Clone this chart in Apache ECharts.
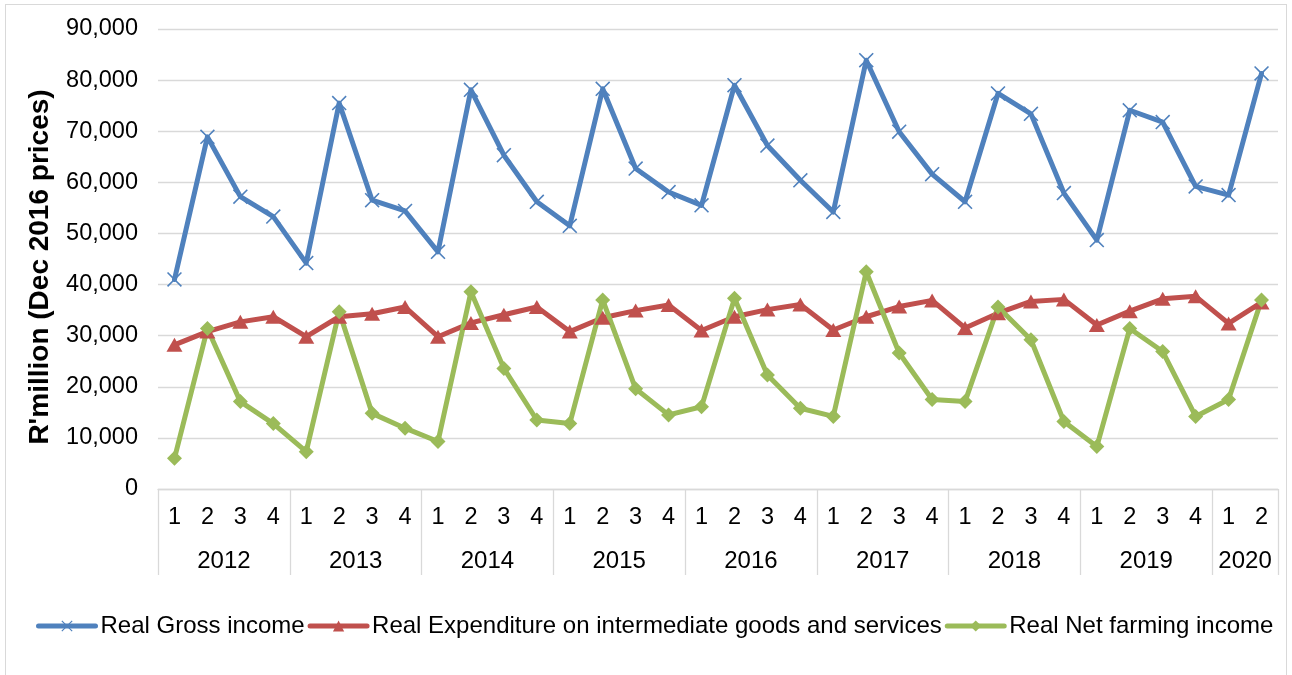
<!DOCTYPE html>
<html>
<head>
<meta charset="utf-8">
<script src="https://cdn.jsdelivr.net/npm/echarts@6/dist/echarts.min.js"></script>
<style>
  html, body { margin: 0; padding: 0; background: #fff; }
  #wrap { position: relative; width: 1292px; height: 675px; overflow: hidden; }
  #frame { position: absolute; left: 5px; top: 4px; width: 1282px; height: 700px; border: 1.5px solid #d9d9d9; box-sizing: border-box; }
  #chart { position: absolute; left: 0; top: 0; width: 1292px; height: 675px; }
</style>
</head>
<body>
<div id="wrap">
  <div id="frame"></div>
  <div id="chart"></div>
</div>
<script>
// ---- Data ----
const years = ['2012', '2013', '2014', '2015', '2016', '2017', '2018', '2019', '2020'];
const quartersPerYear = [4, 4, 4, 4, 4, 4, 4, 4, 2];
const quarterLabels = ['1','2','3','4','1','2','3','4','1','2','3','4','1','2','3','4','1','2','3','4','1','2','3','4','1','2','3','4','1','2','3','4','1','2'];

const grossIncome = [
  41000, 68900, 57200, 53300,
  44200, 75500, 56500, 54400,
  46400, 78100, 65300, 56200,
  51500, 78300, 62700, 58100,
  55500, 79000, 67200, 60400,
  54200, 83900, 69900, 61600,
  56200, 77400, 73400, 57900,
  48700, 74100, 71800, 59200,
  57500, 81300
];
const expenditure = [
  28200, 30800, 32700, 33700,
  29800, 33700, 34300, 35600,
  29800, 32500, 34100, 35600,
  30800, 33500, 34900, 36000,
  31000, 33700, 35100, 36100,
  31100, 33700, 35700, 36900,
  31500, 34400, 36700, 37100,
  32100, 34800, 37200, 37700,
  32400, 36500
];
const netFarming = [
  6000, 31400, 17100, 12800,
  7300, 34700, 14800, 11900,
  9300, 38600, 23600, 13500,
  12800, 37000, 19600, 14500,
  16100, 37300, 22300, 15800,
  14200, 42500, 26600, 17500,
  17100, 35600, 29200, 13200,
  8300, 31400, 26900, 14200,
  17500, 37000
];
const seriesNames = ['Real Gross income', 'Real Expenditure on intermediate goods and services', 'Real Net farming income'];
const yTicks = { min: 0, max: 90000, interval: 10000 };

// ---- Build helpers ----
const yearOfCategory = [];
const groupStart = {};
years.forEach((y, i) => {
  groupStart[yearOfCategory.length] = quartersPerYear[i];
  for (let k = 0; k < quartersPerYear[i]; k++) yearOfCategory.push(y);
});

const gridLeft = 158, gridRight = 14, chartW = 1292;
const band = (chartW - gridLeft - gridRight) / quarterLabels.length;

const gray = '#d9d9d9';
const font = 'Liberation Sans, Arial, sans-serif';
const crossPath = 'path://M0,1.5L1.5,0L10,8.5L18.5,0L20,1.5L11.5,10L20,18.5L18.5,20L10,11.5L1.5,20L0,18.5L8.5,10Z';
const lw = 5;

const chart = echarts.init(document.getElementById('chart'), null, { renderer: 'canvas' });
chart.setOption({
  animation: false,
  textStyle: { fontFamily: font },
  grid: { left: gridLeft, right: gridRight, top: 29, bottom: 186 },
  legend: {
    left: 36, top: 614, padding: 0,
    itemWidth: 57, itemHeight: 14, itemGap: 3,
    lineStyle: { width: lw },
    textStyle: { fontSize: 24, color: '#000', fontFamily: font },
    data: seriesNames
  },
  xAxis: [
    {
      type: 'category', data: quarterLabels, position: 'bottom', boundaryGap: true,
      axisLine: { show: true, lineStyle: { color: gray, width: 1.3 } },
      axisTick: { show: false },
      axisLabel: { interval: 0, margin: 17, fontSize: 23.5, color: '#000', fontFamily: font },
      splitLine: { show: false }
    },
    {
      type: 'category', data: yearOfCategory, position: 'bottom', boundaryGap: true,
      axisLine: { show: false },
      axisTick: {
        show: true, length: 86, inside: false,
        interval: function (i) { return groupStart[i] !== undefined; },
        lineStyle: { color: gray, width: 1.3 }
      },
      axisLabel: {
        margin: 60, fontSize: 24, color: '#000', fontFamily: font,
        interval: function (i) { return groupStart[i] !== undefined; },
        formatter: function (value, index) {
          const n = groupStart[index] || 4;
          return '{g' + n + '|' + value + '}';
        },
        rich: {
          g4: { fontSize: 24, color: '#000', fontFamily: font, padding: [0, 0, 0, 3 * band] },
          g2: { fontSize: 24, color: '#000', fontFamily: font, padding: [0, 0, 0, band] }
        }
      },
      splitLine: { show: false }
    }
  ],
  yAxis: {
    type: 'value', min: yTicks.min, max: yTicks.max, interval: yTicks.interval,
    name: "R'million (Dec 2016 prices)",
    nameLocation: 'middle', nameGap: 104, nameRotate: 90,
    nameTextStyle: { fontSize: 28, fontWeight: 'bold', color: '#000', fontFamily: font, padding: [0, 16, 0, 0] },
    axisLine: { show: false },
    axisTick: { show: false },
    axisLabel: {
      margin: 20, fontSize: 23.5, color: '#000', fontFamily: font,
      formatter: function (v) { return v.toLocaleString('en-US'); }
    },
    splitLine: { show: true, lineStyle: { color: gray, width: 1.3 } }
  },
  series: [
    {
      name: seriesNames[0], type: 'line', xAxisIndex: 0, data: grossIncome,
      symbol: crossPath, symbolSize: 15,
      itemStyle: { color: '#4F81BD' },
      lineStyle: { color: '#4F81BD', width: lw, cap: 'round', join: 'round' }
    },
    {
      name: seriesNames[1], type: 'line', xAxisIndex: 0, data: expenditure,
      symbol: 'triangle', symbolSize: [16, 14],
      itemStyle: { color: '#C0504D' },
      lineStyle: { color: '#C0504D', width: lw, cap: 'round', join: 'round' }
    },
    {
      name: seriesNames[2], type: 'line', xAxisIndex: 0, data: netFarming,
      symbol: 'diamond', symbolSize: [15, 15],
      itemStyle: { color: '#9BBB59' },
      lineStyle: { color: '#9BBB59', width: lw, cap: 'round', join: 'round' }
    }
  ]
});
</script>
</body>
</html>
